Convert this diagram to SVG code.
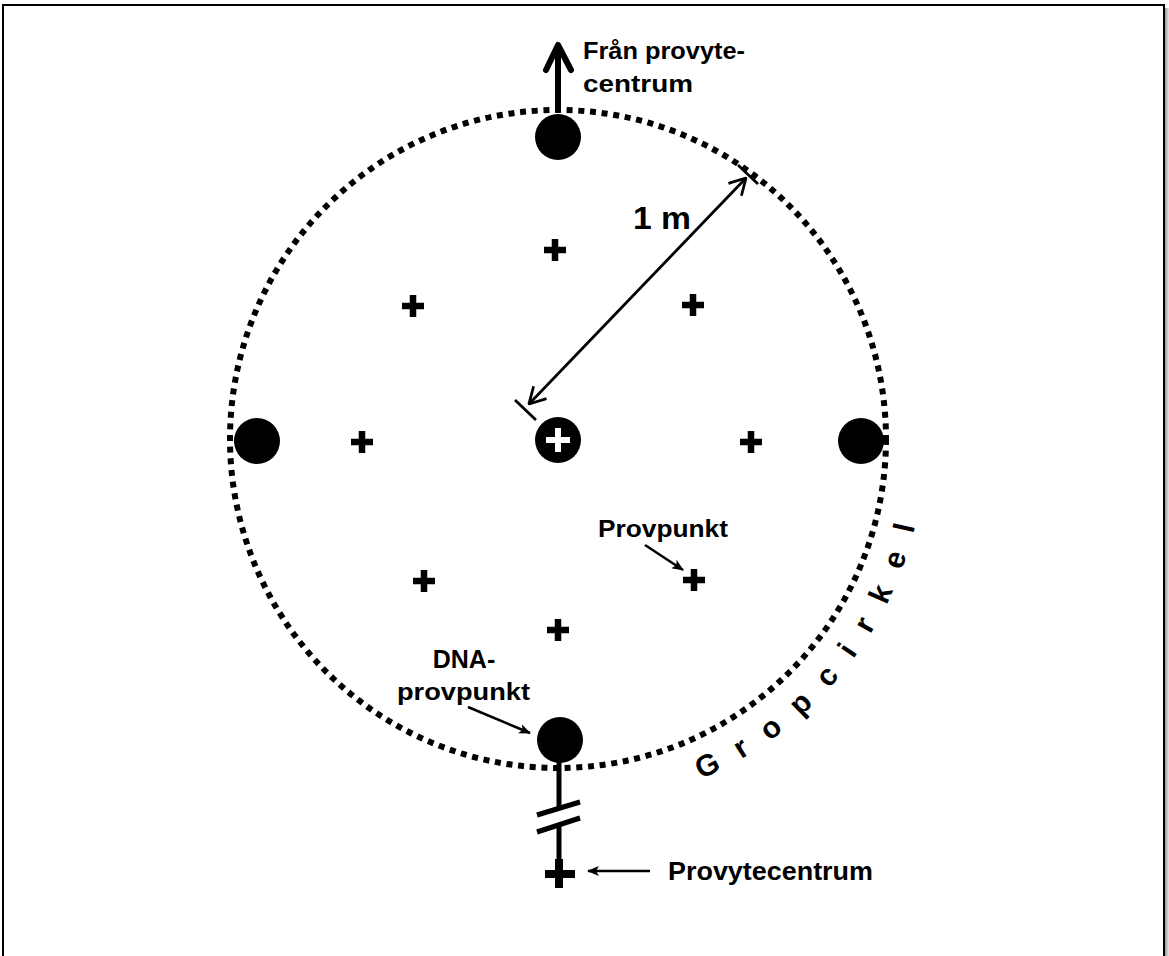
<svg xmlns="http://www.w3.org/2000/svg" width="1169" height="956" viewBox="0 0 1169 956">
  <defs>
    <style>
      .lbl { font-family: "Liberation Sans", Arial, sans-serif; font-weight: bold; fill: #000; }
      .dot { fill: #000; }
      .plus { stroke: #000; stroke-width: 6.5; fill: none; }
      .thin { stroke: #000; stroke-width: 2.5; fill: none; }
    </style>
    <linearGradient id="shade" x1="0" y1="0" x2="1" y2="0">
      <stop offset="0" stop-color="#888"/>
      <stop offset="1" stop-color="#e6e6e6"/>
    </linearGradient>
    <marker id="tri" viewBox="0 0 12 10" refX="11" refY="5" markerWidth="12" markerHeight="10" markerUnits="userSpaceOnUse" orient="auto">
      <path d="M0,0 L12,5 L0,10 L3,5 Z" fill="#000"/>
    </marker>
    <marker id="chev" viewBox="0 0 18 20" refX="17" refY="10" markerWidth="18" markerHeight="20" markerUnits="userSpaceOnUse" orient="auto-start-reverse">
      <path d="M1,1 L17,10 L1,19" fill="none" stroke="#000" stroke-width="2.8"/>
    </marker>
    <path id="p" d="M-11,0 H11 M0,-11 V11"/>
    <path id="arcText" d="M701.0,778.8 A367,367 0 0 0 925,439"/>
  </defs>

  <rect x="1164" y="8" width="5" height="948" fill="url(#shade)"/>
  <rect x="3" y="5" width="1161" height="970" fill="#fff" stroke="#000" stroke-width="2"/>

  <g id="gropcirkel">
    <ellipse cx="558" cy="439" rx="328" ry="329" fill="none" stroke="#000" stroke-width="6" stroke-dasharray="6 5.7"/>
    <text class="lbl" font-size="30" letter-spacing="21.5"><textPath href="#arcText">Gropcirkel</textPath></text>
  </g>

  <g id="connectors">
    <line x1="558" y1="112" x2="558" y2="47" stroke="#000" stroke-width="6"/>
    <polyline points="546,70 558,45 571,70" fill="none" stroke="#000" stroke-width="6" stroke-linejoin="round" stroke-linecap="round"/>
    <line x1="529" y1="404" x2="746" y2="178" stroke="#000" stroke-width="2.8" marker-start="url(#chev)" marker-end="url(#chev)"/>
    <line x1="738" y1="165" x2="758" y2="184" stroke="#000" stroke-width="2.8"/>
    <line x1="515" y1="400" x2="536" y2="420" stroke="#000" stroke-width="2.8"/>
    <line class="thin" x1="645" y1="545" x2="683" y2="570" marker-end="url(#tri)"/>
    <line class="thin" x1="468" y1="707" x2="530" y2="733" marker-end="url(#tri)"/>
    <line class="thin" x1="650" y1="871" x2="588" y2="871" marker-end="url(#tri)"/>
    <line x1="559" y1="760" x2="559" y2="808" stroke="#000" stroke-width="5"/>
    <line x1="559" y1="825" x2="559" y2="866" stroke="#000" stroke-width="5"/>
    <line x1="537" y1="815" x2="580" y2="802" stroke="#000" stroke-width="5"/>
    <line x1="537" y1="832" x2="580" y2="818" stroke="#000" stroke-width="5"/>
  </g>

  <g id="dot-top"><circle class="dot" cx="558" cy="137" r="23"/></g>
  <g id="dot-left"><circle class="dot" cx="257" cy="441" r="23"/></g>
  <g id="dot-right"><circle class="dot" cx="861" cy="441" r="23"/></g>
  <g id="dot-bottom"><circle class="dot" cx="560" cy="740" r="23"/></g>
  <g id="center">
    <circle class="dot" cx="558" cy="440" r="23"/>
    <path d="M546,440 H570 M558,428 V452" stroke="#fff" stroke-width="6" fill="none"/>
  </g>

  <g id="sample-points" class="plus">
    <use href="#p" x="555" y="250"/>
    <use href="#p" x="413" y="306"/>
    <use href="#p" x="693" y="305"/>
    <use href="#p" x="362" y="442"/>
    <use href="#p" x="751" y="442"/>
    <use href="#p" x="424" y="581"/>
    <use href="#p" x="694" y="580"/>
    <use href="#p" x="558" y="630"/>
  </g>

  <g id="provytecentrum">
    <path d="M545,874 H575 M559,859 V888" stroke="#000" stroke-width="8" fill="none"/>
    <text class="lbl" x="668" y="880" font-size="25" textLength="205" lengthAdjust="spacingAndGlyphs">Provytecentrum</text>
  </g>

  <g id="label-fran">
    <text class="lbl" x="583" y="59" font-size="23" textLength="162" lengthAdjust="spacingAndGlyphs">Från provyte-</text>
    <text class="lbl" x="583" y="92" font-size="23" textLength="110" lengthAdjust="spacingAndGlyphs">centrum</text>
  </g>
  <g id="label-1m">
    <text class="lbl" x="633" y="229" font-size="31" textLength="58" lengthAdjust="spacingAndGlyphs">1 m</text>
  </g>
  <g id="label-provpunkt">
    <text class="lbl" x="598" y="537" font-size="24" textLength="130" lengthAdjust="spacingAndGlyphs">Provpunkt</text>
  </g>
  <g id="label-dna">
    <text class="lbl" x="464" y="668" font-size="25" text-anchor="middle">DNA-</text>
    <text class="lbl" x="397" y="700" font-size="24" textLength="133" lengthAdjust="spacingAndGlyphs">provpunkt</text>
  </g>
</svg>
